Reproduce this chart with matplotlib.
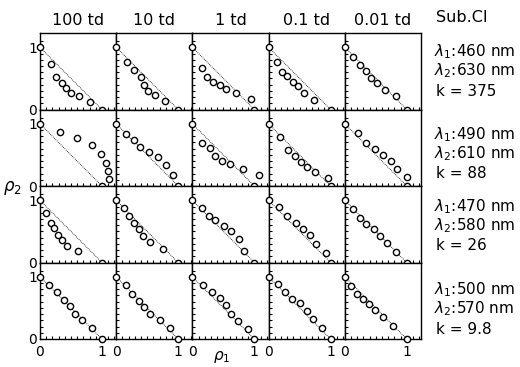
import numpy as np
import matplotlib
matplotlib.use("Agg")
import matplotlib.pyplot as plt
from matplotlib.ticker import FixedLocator

# column headers (retinal illuminance) and row conditions
columns = ["100 td", "10 td", "1 td", "0.1 td", "0.01 td"]
lam1 = ["460", "490", "470", "500"]
lam2 = ["630", "610", "580", "570"]
k_vals = ["375", "88", "26", "9.8"]

# measured points (rho1, rho2) for each cell, row by row
row1_x = [[0.18, 0.26, 0.35, 0.42, 0.50, 0.63, 0.81],
          [0.18, 0.29, 0.40, 0.45, 0.51, 0.63, 0.79],
          [0.15, 0.24, 0.34, 0.45, 0.55, 0.71, 0.94],
          [0.13, 0.22, 0.30, 0.39, 0.48, 0.57, 0.74],
          [0.13, 0.24, 0.34, 0.43, 0.52, 0.65, 0.83]]
row1_y = [[0.73, 0.53, 0.43, 0.34, 0.27, 0.22, 0.12],
          [0.76, 0.63, 0.53, 0.40, 0.30, 0.23, 0.14],
          [0.67, 0.53, 0.45, 0.40, 0.33, 0.26, 0.17],
          [0.76, 0.60, 0.54, 0.44, 0.37, 0.27, 0.16],
          [0.84, 0.72, 0.62, 0.51, 0.43, 0.32, 0.21]]

row2_x = [[0.32, 0.60, 0.84, 0.99, 1.06, 1.10, 1.12],
          [0.16, 0.29, 0.39, 0.53, 0.68, 0.80, 0.91],
          [0.15, 0.28, 0.37, 0.47, 0.61, 0.81, 1.07],
          [0.18, 0.31, 0.42, 0.52, 0.62, 0.75, 0.96],
          [0.21, 0.35, 0.48, 0.61, 0.74, 0.84, 1.00]]
row2_y = [[0.87, 0.77, 0.66, 0.52, 0.37, 0.24, 0.12],
          [0.83, 0.74, 0.62, 0.55, 0.47, 0.33, 0.17],
          [0.69, 0.61, 0.48, 0.40, 0.35, 0.28, 0.17],
          [0.78, 0.58, 0.48, 0.39, 0.31, 0.22, 0.13],
          [0.86, 0.69, 0.59, 0.50, 0.40, 0.27, 0.15]]

row3_x = [[0.10, 0.17, 0.22, 0.29, 0.35, 0.43, 0.61],
          [0.12, 0.21, 0.29, 0.37, 0.43, 0.54, 0.76],
          [0.15, 0.26, 0.37, 0.51, 0.63, 0.76, 0.83],
          [0.17, 0.29, 0.44, 0.55, 0.67, 0.77, 0.92],
          [0.14, 0.25, 0.35, 0.47, 0.57, 0.68, 0.83]]
row3_y = [[0.79, 0.63, 0.55, 0.44, 0.36, 0.27, 0.18],
          [0.87, 0.75, 0.64, 0.54, 0.42, 0.33, 0.22],
          [0.88, 0.75, 0.68, 0.59, 0.51, 0.37, 0.18],
          [0.89, 0.74, 0.64, 0.54, 0.44, 0.29, 0.16],
          [0.86, 0.72, 0.62, 0.54, 0.43, 0.31, 0.17]]

row4_x = [[0.15, 0.27, 0.38, 0.48, 0.57, 0.68, 0.84],
          [0.16, 0.26, 0.37, 0.45, 0.54, 0.70, 0.87],
          [0.17, 0.31, 0.45, 0.55, 0.63, 0.73, 0.89],
          [0.15, 0.27, 0.38, 0.50, 0.62, 0.72, 0.87],
          [0.10, 0.20, 0.30, 0.39, 0.49, 0.61, 0.78]]
row4_y = [[0.87, 0.75, 0.63, 0.53, 0.41, 0.31, 0.18],
          [0.87, 0.72, 0.61, 0.51, 0.40, 0.30, 0.17],
          [0.87, 0.76, 0.66, 0.54, 0.41, 0.29, 0.16],
          [0.88, 0.75, 0.65, 0.58, 0.45, 0.32, 0.18],
          [0.86, 0.73, 0.65, 0.56, 0.46, 0.35, 0.21]]

rows_x = [row1_x, row2_x, row3_x, row4_x]
rows_y = [row1_y, row2_y, row3_y, row4_y]

fig, axes = plt.subplots(4, 5, figsize=(5.2, 3.67), dpi=100)
fig.subplots_adjust(left=40/520, right=421/520, top=1-33/367, bottom=1-339/367,
                    wspace=0, hspace=0)

for r in range(4):
    for c in range(5):
        ax = axes[r, c]
        ax.set_xlim(0, 1.23)
        ax.set_ylim(0, 1.23)
        # theoretical line between the two end points
        ax.plot([0, 1], [1, 0], color="black", lw=0.6, ls=(0, (1, 1.2)))
        ax.plot([0, 1], [1, 0], ls="none", marker="o", ms=4.5, mfc="white",
                mec="black", mew=1.0, clip_on=False, zorder=5)
        ax.plot(rows_x[r][c], rows_y[r][c], ls="none", marker="o", ms=4.5,
                mfc="white", mec="black", mew=1.0, clip_on=False, zorder=5)
        for s in ax.spines.values():
            s.set_linewidth(1.0)
        ax.xaxis.set_major_locator(FixedLocator([0, 1]))
        ax.yaxis.set_major_locator(FixedLocator([0, 1]))
        ax.xaxis.set_minor_locator(FixedLocator(np.arange(1, 13) / 10))
        ax.yaxis.set_minor_locator(FixedLocator(np.arange(1, 12) / 10))
        ax.tick_params(which="both", direction="in", length=2.5, width=0.8,
                       top=False, right=False, labelsize=10)
        ax.tick_params(axis="x", pad=4)
        ax.tick_params(axis="y", pad=2)
        if r < 3:
            ax.set_xticklabels([])
        if c > 0:
            ax.set_yticklabels([])

for c, name in enumerate(columns):
    axes[0, c].set_title(name, fontsize=11.5, pad=6)

fig.text(436/520, 1-18/367, "Sub.CI", fontsize=11.5, va="center", ha="left")

row_tops = [52, 135, 207, 290]
for r in range(4):
    y0 = row_tops[r]
    fig.text(434/520, 1-y0/367, r"$\lambda_1$:" + lam1[r] + " nm",
             fontsize=11, va="center", ha="left")
    fig.text(434/520, 1-(y0+19)/367, r"$\lambda_2$:" + lam2[r] + " nm",
             fontsize=11, va="center", ha="left")
    fig.text(436/520, 1-(y0+39)/367, "k = " + k_vals[r],
             fontsize=11, va="center", ha="left")

fig.text(12/520, 1-188/367, r"$\rho_2$", fontsize=12, va="center", ha="center")
fig.text(222/520, 1-357/367, r"$\rho_1$", fontsize=11, va="center", ha="center")

fig.savefig("out.png", dpi=100)
